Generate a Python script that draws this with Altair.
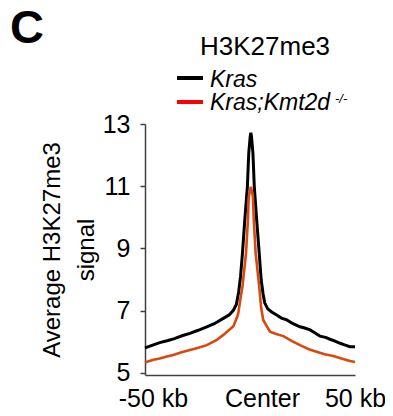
import altair as alt
import pandas as pd

# ---- data ----
kras_kb = [-50, -46, -43, -39, -36, -32, -28.6, -25, -20.6, -17, -12.7, -10, -8, -6.5, -5.4, -4.5, -3.6,
           -2.5, -1.25, -0.6, 0.1, 0.4, 0.7, 1.4, 2.05, 3.2, 4.4, 5.3, 6.2, 7.0, 8.5, 10.5, 12.7, 15,
           17.5, 20.5, 23.8, 26, 28.6, 31, 33.3, 36, 38.1, 40.5, 42.9, 45, 47.6, 50]
kras_signal = [5.80, 5.90, 5.97, 6.04, 6.10, 6.20, 6.27, 6.36, 6.48, 6.58, 6.75, 6.86, 7.00, 7.20, 7.60, 8.10, 8.84,
               9.90, 10.98, 12.06, 12.60, 12.72, 12.60, 12.06, 10.98, 9.90, 8.84, 8.00, 7.55, 7.25, 7.05, 6.95, 6.86, 6.76,
               6.70, 6.58, 6.48, 6.44, 6.38, 6.28, 6.18, 6.14, 6.08, 6.02, 5.95, 5.90, 5.84, 5.84]

kmt_kb = [-50, -46, -43, -40, -36.5, -33, -28.6, -25, -20.6, -16, -12.7, -10, -7.9, -6.1, -5.6, -4.5, -3.6,
          -1.9, -1.0, -0.6, 0.4, 1.4, 1.8, 2.7, 4.4, 5.3, 6.3, 9.5, 12.5, 15.9, 20, 23.8, 28, 31.7, 35.5,
          39.7, 43.5, 47.6, 50]
kmt_signal = [5.33, 5.42, 5.46, 5.52, 5.57, 5.65, 5.73, 5.80, 5.89, 6.05, 6.22, 6.38, 6.50, 6.80, 6.91, 7.40, 7.77,
              8.84, 9.91, 10.66, 10.98, 10.66, 9.91, 8.84, 7.77, 7.10, 6.70, 6.32, 6.25, 6.18, 6.02, 5.89, 5.76, 5.68, 5.60,
              5.54, 5.46, 5.38, 5.35]

series_names = ["Kras", "Kras;Kmt2d-/-"]
series_colors = ["#000000", "#d9480f"]
legend_colors = ["#000000", "#ff0000"]
x_ticks = [-50, 0, 50]
x_tick_labels = ["-50 kb", "Center", "50 kb"]
y_ticks = [5, 7, 9, 11, 13]

df = pd.concat([
    pd.DataFrame({"kb": kras_kb, "signal": kras_signal, "series": series_names[0]}),
    pd.DataFrame({"kb": kmt_kb, "signal": kmt_signal, "series": series_names[1]}),
], ignore_index=True)

FONT = "Liberation Sans"
W, H = 210, 251

label_expr = "''"
for v, lab in zip(reversed(x_ticks), reversed(x_tick_labels)):
    label_expr = f"datum.value == {v} ? '{lab}' : ({label_expr})"

one = pd.DataFrame({"a": [0]})

lines = alt.Chart(df).mark_line(interpolate="linear").encode(
    x=alt.X("kb:Q",
            scale=alt.Scale(domain=[-50, 50], nice=False, zero=False),
            axis=alt.Axis(values=x_ticks, labelExpr=label_expr, title=None, grid=False,
                          ticks=False, tickSize=0, labelPadding=11, labelFontSize=25,
                          labelFlush=False, labelOverlap=False, labelBound=False,
                          labelOffset={"condition": [{"test": "datum.value == 0", "value": 12},
                                                     {"test": "datum.value < 0", "value": 8}],
                                       "value": 0},
                          labelBaseline="top")),
    y=alt.Y("signal:Q",
            scale=alt.Scale(domain=[4.93, 13], nice=False, zero=False),
            axis=alt.Axis(values=y_ticks, grid=False, tickSize=5, labelPadding=10, labelFontSize=25,
                          labelFlush=False, labelOverlap=False,
                          title=["Average H3K27me3", "signal"], titleFontSize=24,
                          titleFontWeight="normal", titleAngle=270, titleAlign="center",
                          titleBaseline="alphabetic", titleX=-86, titleY=H / 2,
                          titleLineHeight=34)),
    color=alt.Color("series:N", scale=alt.Scale(domain=series_names, range=series_colors), legend=None),
    size=alt.Size("series:N", scale=alt.Scale(domain=series_names, range=[3, 2.6]), legend=None),
    detail="series:N",
)

panel_letter = alt.Chart(one).mark_text(align="left", baseline="alphabetic", font=FONT,
                                        fontSize=47, fontWeight="bold").encode(
    x=alt.value(-135), y=alt.value(-81), text=alt.value("C"))

title = alt.Chart(one).mark_text(align="center", baseline="alphabetic", font=FONT,
                                 fontSize=26).encode(
    x=alt.value(120), y=alt.value(-69), text=alt.value("H3K27me3"))

leg_line1 = alt.Chart(one).mark_rule(strokeWidth=4, color=legend_colors[0]).encode(
    x=alt.value(32), x2=alt.value(58), y=alt.value(-46))
leg_line2 = alt.Chart(one).mark_rule(strokeWidth=4, color=legend_colors[1]).encode(
    x=alt.value(32), x2=alt.value(58), y=alt.value(-22))
leg_text1 = alt.Chart(one).mark_text(align="left", baseline="alphabetic", font=FONT, fontSize=23,
                                     fontStyle="italic").encode(
    x=alt.value(65), y=alt.value(-37), text=alt.value("Kras"))
leg_text2 = alt.Chart(one).mark_text(align="left", baseline="alphabetic", font=FONT, fontSize=23,
                                     fontStyle="italic").encode(
    x=alt.value(65), y=alt.value(-14), text=alt.value("Kras;Kmt2d"))
leg_sup = alt.Chart(one).mark_text(align="left", baseline="alphabetic", font=FONT, fontSize=13,
                                   fontStyle="italic").encode(
    x=alt.value(190), y=alt.value(-21), text=alt.value("-/-"))

chart = alt.layer(lines, panel_letter, title, leg_line1, leg_line2, leg_text1, leg_text2, leg_sup).properties(
    width=W, height=H,
    autosize=alt.AutoSizeParams(type="none"),
    padding={"left": 137, "top": 116, "right": 30, "bottom": 40},
).configure_view(stroke=None).configure_axis(
    labelFont=FONT, titleFont=FONT, labelColor="#000000", titleColor="#000000",
    domainColor="#404040", domainWidth=1.5, tickColor="#404040", tickWidth=1.5,
)

chart.save("out.html", embed_options={"renderer": "svg", "actions": False})
